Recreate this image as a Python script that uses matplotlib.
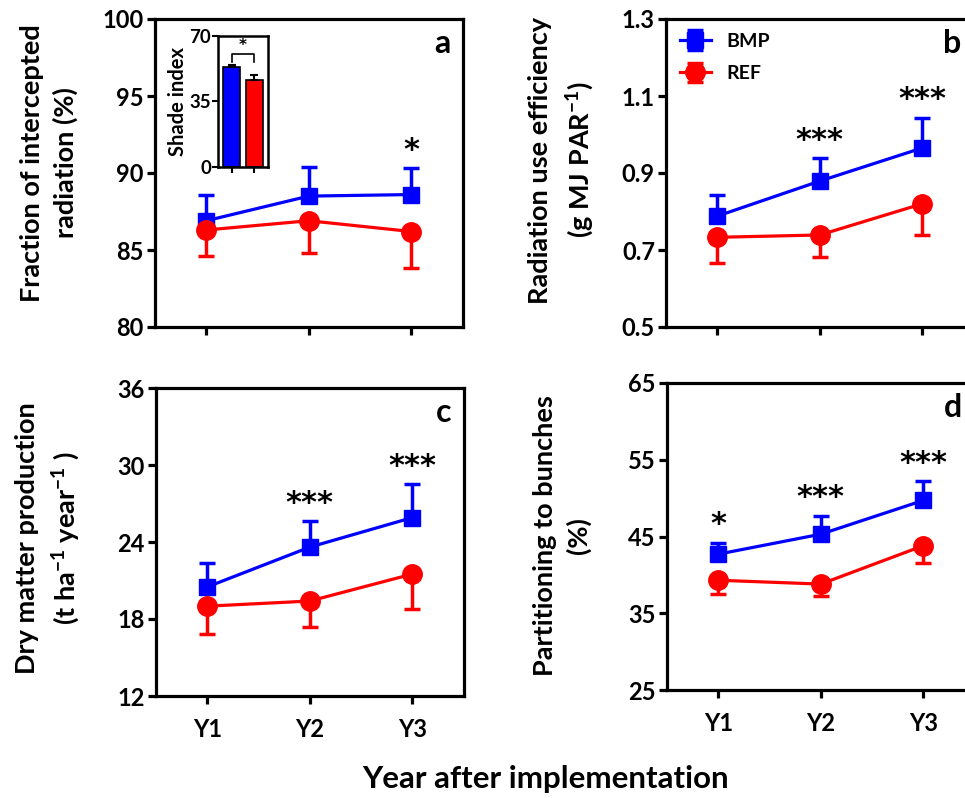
import numpy as np
import matplotlib
matplotlib.use("Agg")
import matplotlib.pyplot as plt

plt.rcParams['font.family'] = ['Lato', 'DejaVu Sans']
plt.rcParams['font.weight'] = 'bold'
plt.rcParams['mathtext.fontset'] = 'custom'
plt.rcParams['mathtext.rm'] = 'Lato:bold'
plt.rcParams['mathtext.bf'] = 'Lato:bold'

years = ["Y1", "Y2", "Y3"]

# panel a - fraction of intercepted radiation (%)
a_bmp = [86.9, 88.5, 88.6]
a_bmp_err = [1.7, 1.9, 1.7]
a_ref = [86.3, 86.9, 86.2]
a_ref_err = [1.7, 2.1, 2.4]
a_stars = ["", "", "*"]

# panel b - radiation use efficiency
b_bmp = [0.788, 0.879, 0.965]
b_bmp_err = [0.055, 0.059, 0.079]
b_ref = [0.733, 0.739, 0.820]
b_ref_err = [0.068, 0.057, 0.081]
b_stars = ["", "***", "***"]

# panel c - dry matter production
c_bmp = [20.5, 23.6, 25.9]
c_bmp_err = [1.9, 2.0, 2.6]
c_ref = [19.0, 19.4, 21.5]
c_ref_err = [2.2, 2.0, 2.7]
c_stars = ["", "***", "***"]

# panel d - partitioning to bunches
d_bmp = [42.7, 45.3, 49.7]
d_bmp_err = [1.5, 2.4, 2.5]
d_ref = [39.3, 38.8, 43.8]
d_ref_err = [1.8, 1.6, 2.2]
d_stars = ["*", "***", "***"]

# inset - shade index
shade_groups = ["BMP", "REF"]
shade_vals = [53.1, 46.3]
shade_err = [1.1, 2.5]

BLUE = "#0000ff"
RED = "#ff0000"

fig = plt.figure(figsize=(9.65, 7.98), dpi=100)

def fx(px):
    return px / 965

def fy(py):
    return 1 - py / 798

panels = [
    dict(l=155, t=19, b=327, bmp=a_bmp, be=a_bmp_err, ref=a_ref, re=a_ref_err, st=a_stars,
         ylim=(80, 100), yt=[80, 85, 90, 95, 100], fmt="{:.0f}", letter="a", xlab=False,
         ylab="Fraction of intercepted\nradiation (%)", lx=49, ly=163),
    dict(l=666, t=19, b=327, bmp=b_bmp, be=b_bmp_err, ref=b_ref, re=b_ref_err, st=b_stars,
         ylim=(0.5, 1.3), yt=[0.5, 0.7, 0.9, 1.1, 1.3], fmt="{:.1f}", letter="b", xlab=False,
         ylab="Radiation use efficiency\n(g MJ PAR$^{\\mathbf{-1}}$)", lx=562, ly=160),
    dict(l=156, t=388, b=696, bmp=c_bmp, be=c_bmp_err, ref=c_ref, re=c_ref_err, st=c_stars,
         ylim=(12, 36), yt=[12, 18, 24, 30, 36], fmt="{:.0f}", letter="c", xlab=True,
         ylab="Dry matter production\n(t ha$^{\\mathbf{-1}}$ year$^{\\mathbf{-1}}$ )", lx=49, ly=538),
    dict(l=667, t=383, b=690, bmp=d_bmp, be=d_bmp_err, ref=d_ref, re=d_ref_err, st=d_stars,
         ylim=(25, 65), yt=[25, 35, 45, 55, 65], fmt="{:.0f}", letter="d", xlab=True,
         ylab="Partitioning to bunches\n(%)", lx=562, ly=536),
]

x = np.arange(1, 4)
axes = []
for p in panels:
    ax = fig.add_axes([fx(p["l"]), fy(p["b"]), fx(307.5), (p["b"] - p["t"]) / 798])
    axes.append(ax)
    ax.errorbar(x, p["bmp"], yerr=[np.zeros(3), p["be"]], color=BLUE, lw=2.3, marker="s",
                ms=12, elinewidth=2.5, capsize=6, capthick=2.5, label="BMP", zorder=3)
    ax.errorbar(x, p["ref"], yerr=[p["re"], np.zeros(3)], color=RED, lw=2.3, marker="o",
                ms=14, elinewidth=2.5, capsize=6, capthick=2.5, label="REF", zorder=3)
    span = p["ylim"][1] - p["ylim"][0]
    for xi, top, e, s in zip(x, p["bmp"], p["be"], p["st"]):
        if s:
            ax.text(xi, top + e + span * 0.012, s, ha="center", va="bottom",
                    fontsize=22, fontweight="bold", family="DejaVu Sans")
    ax.set_xlim(0.5, 3.5)
    ax.set_ylim(*p["ylim"])
    ax.set_yticks(p["yt"])
    ax.set_yticklabels([p["fmt"].format(v) for v in p["yt"]])
    ax.set_xticks(x)
    if p["xlab"]:
        ax.set_xticklabels(years)
    else:
        ax.set_xticklabels([])
    for sp in ax.spines.values():
        sp.set_linewidth(2.3)
    ax.tick_params(direction="out", length=6, width=2.3, labelsize=17, pad=2)
    ax.tick_params(axis="x", pad=10)
    ax.text(0.96, 0.92, p["letter"], transform=ax.transAxes, ha="right", va="center",
            fontsize=23, fontweight="bold")
    fig.text(fx(p["lx"]), fy(p["ly"]), p["ylab"], rotation=90, ha="center", va="center",
             multialignment="center", fontsize=19.5, fontweight="bold", linespacing=1.4)

# legend in panel b
axes[1].legend(loc="upper left", frameon=False, fontsize=14, handlelength=1.6,
               borderaxespad=0.3, labelspacing=0.8, bbox_to_anchor=(0.0, 1.0))

# inset - shade index
ins = fig.add_axes([fx(218), fy(166.7), fx(50), 131 / 798])
ins.bar([0, 1], shade_vals, yerr=[[0, 0], shade_err], color=[BLUE, RED], width=0.75,
        edgecolor="black", linewidth=1.2, capsize=3,
        error_kw=dict(elinewidth=1.5, capthick=1.5))
ins.set_xlim(-0.6, 1.6)
ins.set_ylim(0, 70)
ins.set_yticks([0, 35, 70])
ins.set_xticks([0, 1])
ins.set_xticklabels([])
for sp in ins.spines.values():
    sp.set_linewidth(1.8)
ins.tick_params(direction="out", length=4, width=1.5, labelsize=13.5, pad=1)
ins.set_ylabel("Shade index", fontsize=14.5, fontweight="bold", labelpad=1)
ins.plot([0, 0, 1, 1], [56, 60, 60, 56], color="black", lw=1.2)
ins.text(0.5, 60.5, "*", ha="center", va="bottom", fontsize=11, family="DejaVu Sans")

fig.text(fx(546), fy(779), "Year after implementation", ha="center", va="center",
         fontsize=22.5, fontweight="bold")

fig.savefig("out.png", dpi=100)
